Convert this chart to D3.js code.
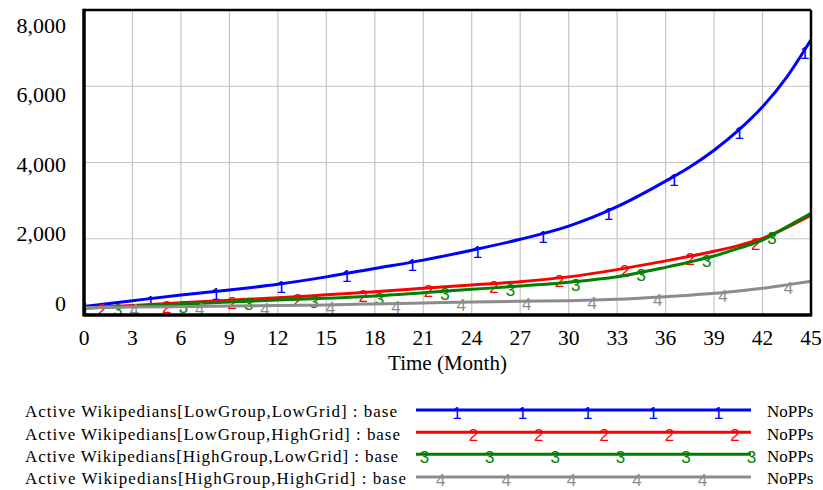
<!DOCTYPE html>
<html><head><meta charset="utf-8">
<script src="https://cdn.jsdelivr.net/npm/d3@7"></script>
<style>
html,body{margin:0;padding:0;background:#fff;}
svg{display:block;}
</style></head>
<body>
<script>
// ---- data ----
const months = [0,3,6,9,12,15,18,21,24,27,30,33,36,37.5,39,40.5,42,43.5,45];
const lowGroupLowGrid   = [220,375,524,655,805,1000,1220,1440,1700,1985,2330,2840,3510,3880,4320,4840,5460,6240,7220];
const lowGroupHighGrid  = [190,250,320,390,450,530,610,700,786,875,1000,1190,1420,1540,1670,1820,2010,2290,2620];
const highGroupLowGrid  = [180,230,285,340,393,440,500,585,673,760,860,1003,1250,1390,1546,1747,1965,2313,2665];
const highGroupHighGrid = [190,210,220,235,250,265,290,315,340,360,372,410,480,520,568,630,700,790,885];
const xTicks = [0,3,6,9,12,15,18,21,24,27,30,33,36,39,42,45];
const yTicks = [0,2000,4000,6000,8000];
const seriesNames = [
  "Active Wikipedians[LowGroup,LowGrid] : base",
  "Active Wikipedians[LowGroup,HighGrid] : base",
  "Active Wikipedians[HighGroup,LowGrid] : base",
  "Active Wikipedians[HighGroup,HighGrid] : base"
];
const seriesUnits = ["NoPPs","NoPPs","NoPPs","NoPPs"];
const seriesMarks = ["1","2","3","4"];
const xTitle = "Time (Month)";

// ---- layout / style ----
const W = 823, H = 490;
const L = 84, R = 811, T = 10, B = 315;
const colors = ["#0000ff","#ff0000","#008000","#8c8c8c"];
const serif = "'Liberation Serif','Times New Roman',serif";
const sans = "'Liberation Sans',Arial,sans-serif";

const seriesVals = [lowGroupLowGrid, lowGroupHighGrid, highGroupLowGrid, highGroupHighGrid];
const series = seriesVals.map((vals,i)=>({name:seriesNames[i],unit:seriesUnits[i],mark:seriesMarks[i],color:colors[i],
  pts: months.map((m,j)=>({m, v: vals[j]}))}));

const svg = d3.select("body").append("svg").attr("width",W).attr("height",H);

const x = d3.scaleLinear().domain([0,45]).range([L,R]);
const y = d3.scaleLinear().domain([0,8000]).range([B,T]);
const yLab = d3.scaleLinear().domain([0,8000]).range([303,25]);

// grid
const grid = svg.append("g");
grid.selectAll("line.vx").data(xTicks.slice(1,-1)).enter().append("line")
  .attr("x1",d=>x(d)).attr("x2",d=>x(d)).attr("y1",T).attr("y2",B)
  .attr("stroke","#c4c4c4").attr("stroke-width",1.2);
grid.selectAll("line.hy").data(yTicks.slice(1,-1)).enter().append("line")
  .attr("y1",d=>y(d)).attr("y2",d=>y(d)).attr("x1",L).attr("x2",R)
  .attr("stroke","#c4c4c4").attr("stroke-width",1.2);

// clip
svg.append("clipPath").attr("id","clip").append("rect")
  .attr("x",L).attr("y",T).attr("width",R-L).attr("height",B-T);

const line = d3.line().x(d=>x(d.m)).y(d=>y(d.v)).curve(d3.curveMonotoneX);
const plot = svg.append("g").attr("clip-path","url(#clip)");

const innerW = R-L;
const spacing = innerW*0.09, offStep = innerW*0.02255;

series.forEach((s,i)=>{
  const p = plot.append("path").datum(s.pts).attr("d",line)
    .attr("fill","none").attr("stroke",s.color).attr("stroke-width",3).attr("stroke-linejoin","round");
  const node = p.node(), len = node.getTotalLength();
  function yAt(px){
    let lo=0, hi=len;
    for(let k=0;k<40;k++){const mid=(lo+hi)/2; if(node.getPointAtLength(mid).x<px) lo=mid; else hi=mid;}
    return node.getPointAtLength(lo).y;
  }
  for(let k=0;;k++){
    const px = L+1+i*offStep+k*spacing;
    if(px>R) break;
    plot.append("text").attr("x",px).attr("y",yAt(px)+9)
      .attr("text-anchor","middle").attr("font-family",sans).attr("font-size",17)
      .attr("fill",s.color).text(s.mark);
  }
});

// frame
svg.append("line").attr("x1",L).attr("x2",R).attr("y1",T).attr("y2",T).attr("stroke","#000").attr("stroke-width",2.5);
svg.append("line").attr("x1",R).attr("x2",R).attr("y1",T).attr("y2",B).attr("stroke","#000").attr("stroke-width",2.5);
svg.append("line").attr("x1",L).attr("x2",L).attr("y1",T-1.2).attr("y2",B+1.5).attr("stroke","#000").attr("stroke-width",3.5);
svg.append("line").attr("x1",L).attr("x2",R+1.2).attr("y1",B).attr("y2",B).attr("stroke","#000").attr("stroke-width",3.5);

// y labels
svg.selectAll("text.yl").data(yTicks).enter().append("text")
  .attr("x",66).attr("y",d=>yLab(d)).attr("dy","0.35em").attr("text-anchor","end")
  .attr("font-family",serif).attr("font-size",22).attr("fill","#000")
  .text(d=>d3.format(",")(d));

// x labels
svg.selectAll("text.xl").data(xTicks).enter().append("text")
  .attr("x",d=>x(d)).attr("y",344.5).attr("text-anchor","middle")
  .attr("font-family",serif).attr("font-size",21.5).attr("fill","#000").text(d=>d);

svg.append("text").attr("x",(L+R)/2).attr("y",370).attr("text-anchor","middle")
  .attr("font-family",serif).attr("font-size",21).attr("fill","#000").text(xTitle);

// legend
const legBase = [417.3, 439.5, 461.8, 484];
const legLineY = [410, 432.3, 454.3, 477];
const textEnd = [397, 400, 398, 406];
const legX0 = 416, legX1 = 751;
series.forEach((s,i)=>{
  svg.append("text").attr("x",25).attr("y",legBase[i])
    .attr("font-family",serif).attr("font-size",17).attr("fill","#000")
    .attr("textLength",textEnd[i]-25).attr("lengthAdjust","spacing").text(s.name);
  svg.append("line").attr("x1",legX0).attr("x2",legX1).attr("y1",legLineY[i]).attr("y2",legLineY[i])
    .attr("stroke",s.color).attr("stroke-width",3);
  for(let k=0;;k++){
    const px = 391.6+i*16.4+k*65.4;
    if(px>legX1+1) break;
    if(px<legX0) continue;
    svg.append("text").attr("x",px).attr("y",legLineY[i]+9).attr("text-anchor","middle")
      .attr("font-family",sans).attr("font-size",17).attr("fill",s.color).text(s.mark);
  }
  svg.append("text").attr("x",767).attr("y",legBase[i])
    .attr("font-family",serif).attr("font-size",17).attr("fill","#000").text(s.unit);
});
</script>
</body></html>
